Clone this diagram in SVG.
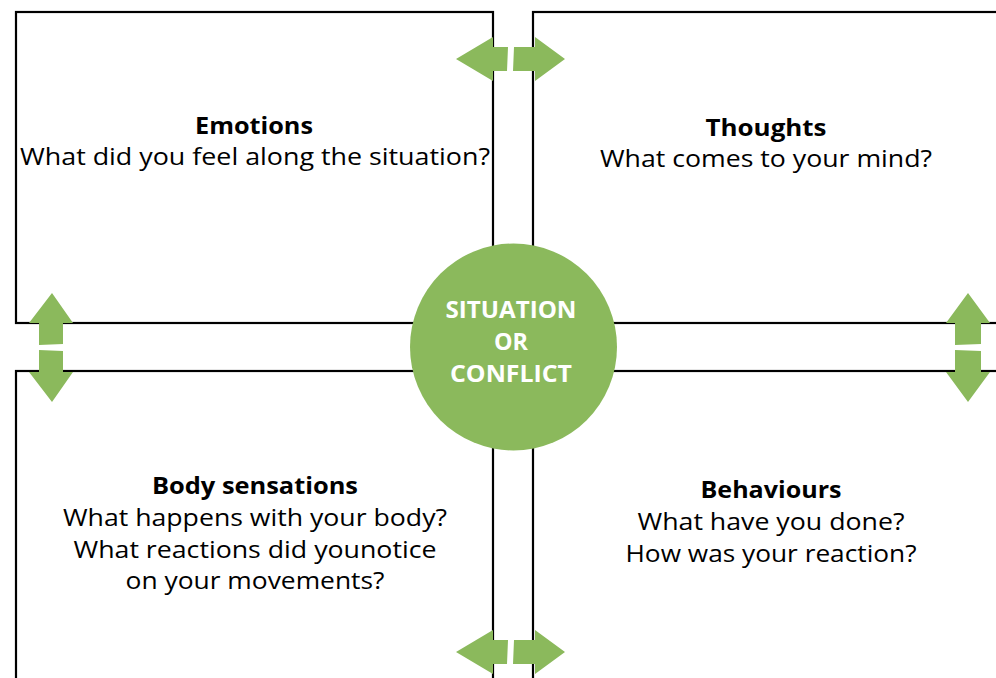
<svg xmlns="http://www.w3.org/2000/svg" width="996" height="678" viewBox="0 0 996 678">
  <style>
    .box { fill: #ffffff; stroke: #000000; stroke-width: 2.2; }
    .arrow { fill: #8bb95c; }
    .title { font-family: "Open Sans", "Liberation Sans", sans-serif; font-size: 23.5px; font-weight: bold; fill: #000000; text-anchor: middle; }
    .body { font-family: "Open Sans", "Liberation Sans", sans-serif; font-size: 24px; fill: #000000; text-anchor: middle; }
    .hub { font-family: "Open Sans", "Liberation Sans", sans-serif; font-size: 23px; font-weight: bold; fill: #ffffff; text-anchor: middle; }
  </style>
  <rect width="996" height="678" fill="#ffffff"/>

  <g id="emotions">
    <rect class="box" x="16" y="12" width="477" height="311"/>
    <text class="title" x="254" y="134" textLength="118" lengthAdjust="spacingAndGlyphs">Emotions</text>
    <text class="body" x="255" y="165" textLength="470" lengthAdjust="spacingAndGlyphs">What did you feel along the situation?</text>
  </g>

  <g id="thoughts">
    <rect class="box" x="533" y="12" width="480" height="311"/>
    <text class="title" x="766" y="136" textLength="121" lengthAdjust="spacingAndGlyphs">Thoughts</text>
    <text class="body" x="766" y="167" textLength="332" lengthAdjust="spacingAndGlyphs">What comes to your mind?</text>
  </g>

  <g id="body-sensations">
    <rect class="box" x="16" y="371" width="477" height="330"/>
    <text class="title" x="255" y="494" textLength="206" lengthAdjust="spacingAndGlyphs">Body sensations</text>
    <text class="body" x="255" y="526" textLength="384" lengthAdjust="spacingAndGlyphs">What happens with your body?</text>
    <text class="body" x="255" y="558" textLength="363" lengthAdjust="spacingAndGlyphs">What reactions did younotice</text>
    <text class="body" x="255" y="589" textLength="259" lengthAdjust="spacingAndGlyphs">on your movements?</text>
  </g>

  <g id="behaviours">
    <rect class="box" x="533" y="371" width="480" height="330"/>
    <text class="title" x="771" y="498" textLength="141" lengthAdjust="spacingAndGlyphs">Behaviours</text>
    <text class="body" x="771" y="530" textLength="267" lengthAdjust="spacingAndGlyphs">What have you done?</text>
    <text class="body" x="771" y="562" textLength="291" lengthAdjust="spacingAndGlyphs">How was your reaction?</text>
  </g>

  <g id="connectors">
    <!-- top pair -->
    <polygon class="arrow" points="456,59 493,37 493,47 508,47 507,71 493,71 493,81"/>
    <polygon class="arrow" points="565,59 535,37 535,47 514,47 513,71 535,71 535,81"/>
    <!-- bottom pair -->
    <polygon class="arrow" points="456,652 493,630 493,640 508,640 507,664 493,664 493,674"/>
    <polygon class="arrow" points="565,652 535,630 535,640 514,640 513,664 535,664 535,674"/>
    <!-- left pair -->
    <polygon class="arrow" points="52,293 29,323 39,323 39,345 63,344 63,323 73,323"/>
    <polygon class="arrow" points="52,402 29,372 39,372 39,350 63,351 63,372 73,372"/>
    <!-- right pair -->
    <polygon class="arrow" points="968,293 946,323 955,323 955,345 981,344 981,323 990,323"/>
    <polygon class="arrow" points="968,402 946,372 955,372 955,350 981,351 981,372 990,372"/>
  </g>

  <g id="situation">
    <circle cx="513.5" cy="347" r="103.5" fill="#8bb95c"/>
    <text class="hub" x="511" y="318" textLength="131" lengthAdjust="spacingAndGlyphs">SITUATION</text>
    <text class="hub" x="511" y="350" textLength="34" lengthAdjust="spacingAndGlyphs">OR</text>
    <text class="hub" x="511" y="382" textLength="122" lengthAdjust="spacingAndGlyphs">CONFLICT</text>
  </g>
</svg>
